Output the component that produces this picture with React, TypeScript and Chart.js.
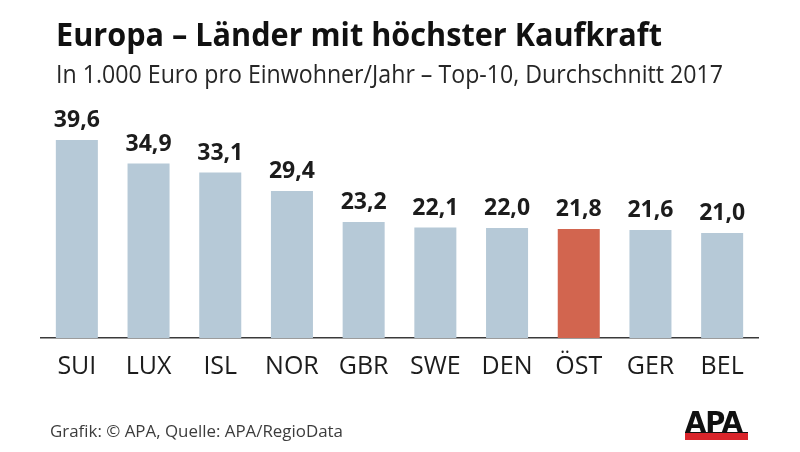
import React, { useEffect, useLayoutEffect, useRef } from 'react';
import { Chart, registerables } from 'chart.js';

Chart.register(...registerables);

const categories = ['SUI', 'LUX', 'ISL', 'NOR', 'GBR', 'SWE', 'DEN', 'ÖST', 'GER', 'BEL'];
const values = [39.6, 34.9, 33.1, 29.4, 23.2, 22.1, 22.0, 21.8, 21.6, 21.0];
const highlightCategory = 'ÖST';
const titleText = 'Europa – Länder mit höchster Kaufkraft';
const subtitleText = 'In 1.000 Euro pro Einwohner/Jahr – Top-10, Durchschnitt 2017';
const footerText = 'Grafik: © APA, Quelle: APA/RegioData';
const logoText = 'APA';

const BAR_COLOR = '#b6c9d7';
const HIGHLIGHT_COLOR = '#d2654f';
const TEXT_COLOR = '#1c1c1c';

function FitText(props: { text: string; width: number; style: React.CSSProperties }) {
  const ref = useRef<HTMLSpanElement>(null);
  useLayoutEffect(() => {
    const el = ref.current;
    if (!el) return;
    const fit = () => {
      el.style.transform = 'none';
      const w = el.getBoundingClientRect().width;
      if (w > 0) el.style.transform = `scaleX(${props.width / w})`;
    };
    fit();
    if ((document as any).fonts && (document as any).fonts.ready) {
      (document as any).fonts.ready.then(fit);
    }
  }, [props.text, props.width]);
  return (
    <span
      ref={ref}
      style={{
        position: 'absolute',
        whiteSpace: 'nowrap',
        transformOrigin: '0 0',
        lineHeight: 1,
        ...props.style,
      }}
    >
      {props.text}
    </span>
  );
}

const valueLabels = {
  id: 'valueLabels',
  afterDatasetsDraw(chart: any) {
    const ctx = chart.ctx;
    const meta = chart.getDatasetMeta(0);
    const data = chart.data.datasets[0].data as number[];
    ctx.save();
    ctx.font = 'bold 23px "Open Sans"';
    ctx.fillStyle = TEXT_COLOR;
    ctx.textAlign = 'center';
    ctx.textBaseline = 'alphabetic';
    meta.data.forEach((bar: any, i: number) => {
      const v = data[i];
      ctx.fillText(v.toFixed(1).replace('.', ','), bar.x, bar.y - 13);
    });
    ctx.restore();
  },
};

export default function App() {
  const canvasRef = useRef<HTMLCanvasElement>(null);

  useEffect(() => {
    const canvas = canvasRef.current;
    if (!canvas) return;
    const chart = new Chart(canvas, {
      type: 'bar',
      data: {
        labels: categories,
        datasets: [
          {
            data: values,
            backgroundColor: categories.map((c) => (c === highlightCategory ? HIGHLIGHT_COLOR : BAR_COLOR)),
            borderWidth: 0,
            barPercentage: 0.586,
            categoryPercentage: 1,
          },
        ],
      },
      options: {
        responsive: false,
        animation: false,
        events: [],
        layout: { padding: { left: 41, right: 42, top: 138, bottom: 0 } },
        plugins: {
          legend: { display: false },
          title: { display: false },
          tooltip: { enabled: false },
        },
        scales: {
          x: {
            grid: { display: false, drawTicks: false },
            border: { display: true, color: '#3a3a3a', width: 1.5 },
            ticks: {
              color: TEXT_COLOR,
              font: { family: 'Open Sans', size: 25 },
              padding: 14,
            },
            afterFit: (scale: any) => {
              scale.height = 114;
            },
          },
          y: {
            display: false,
            min: 0,
            max: 40,
          },
        },
      },
      plugins: [valueLabels],
    });
    const fonts = (document as any).fonts;
    if (fonts && fonts.ready) fonts.ready.then(() => chart.update());
    return () => chart.destroy();
  }, []);

  return (
    <div
      style={{
        position: 'absolute',
        left: 0,
        top: 0,
        width: 800,
        height: 452,
        background: '#ffffff',
        overflow: 'hidden',
        fontFamily: '"Open Sans", sans-serif',
        color: TEXT_COLOR,
      }}
    >
      <canvas ref={canvasRef} width={800} height={452} style={{ position: 'absolute', left: 0, top: 0 }} />
      <FitText text={titleText} width={606} style={{ left: 56, top: 18, fontSize: 32, fontWeight: 700, color: '#111' }} />
      <FitText text={subtitleText} width={667} style={{ left: 56, top: 60, fontSize: 26, fontWeight: 400, color: '#262626' }} />
      <FitText text={footerText} width={293} style={{ left: 50, top: 423, fontSize: 16, fontWeight: 400, color: '#3c3c3c' }} />
      <div style={{ position: 'absolute', left: 685, top: 432, width: 63, height: 7, background: '#d9252b', borderTop: '1px solid #111' }} />
      <FitText
        text={logoText}
        width={57}
        style={{ left: 685, top: 409, fontSize: 28, fontWeight: 900, fontFamily: '"DejaVu Sans", sans-serif', color: '#111', letterSpacing: -1 }}
      />
    </div>
  );
}
